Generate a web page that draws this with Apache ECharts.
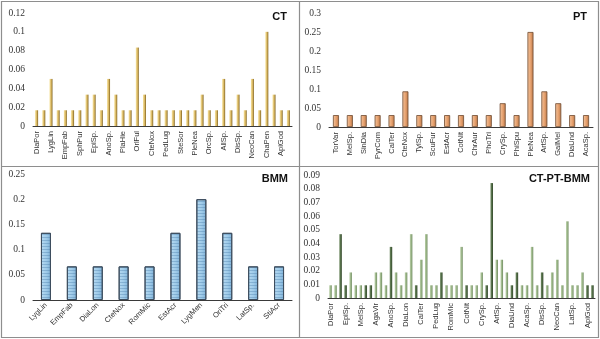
<!DOCTYPE html>
<html>
<head>
<meta charset="utf-8">
<script src="https://cdn.jsdelivr.net/npm/echarts@6/dist/echarts.min.js"></script>
<style>html,body{margin:0;padding:0;background:#fff}#c{width:600px;height:339px}</style>
</head>
<body>
<div id="c"></div>
<script>
// ---- CT ----
var ctCats = ['DiaPor','DiaLon','LygLin','LygMen','EmpFab','PleSp.','SphPur','CalTer','EpiSp.','MelSp.','AnoSp.','AgaVir','PlaHie','PhoTri','OrlFul','OriTri','CteNox','EstAcr','PedLug','RomMic','SteSor','ScuFur','PleNea','PhiSpu','OrcSp.','CrySp.','AllSp.','ArtSp.','DisSp.','GalMel','NeoCan','LatSp.','ChaPen','DiaUnd','ApiGod','AcaSp.'];
var ctVals = [0.0167,0.0167,0.05,0.0167,0.0167,0.0167,0.0167,0.0333,0.0333,0.0167,0.05,0.0333,0.0167,0.0167,0.0833,0.0333,0.0167,0.0167,0.0167,0.0167,0.0167,0.0167,0.0167,0.0333,0.0167,0.0167,0.05,0.0167,0.0333,0.0167,0.05,0.0167,0.1,0.0333,0.0167,0.0167];
var ctTicks = {min:0, max:0.12, interval:0.02};

// ---- PT ----
var ptCats = ['TorVar','MelSp.','SinDia','PyrCom','CalTer','CteNox','TylSp.','ScuFur','EstAcr','CotNit','ChrAur','PhoTri','CrySp.','PhiSpu','PleNea','ArtSp.','GalMel','DiaUnd','AcaSp.'];
var ptVals = [0.0313,0.0313,0.0313,0.0313,0.0313,0.0938,0.0313,0.0313,0.0313,0.0313,0.0313,0.0313,0.0625,0.0313,0.25,0.0938,0.0625,0.0313,0.0313];
var ptTicks = {min:0, max:0.3, interval:0.05};

// ---- BMM ----
var bmmCats = ['LygLin','EmpFab','DiaLon','CteNox','RomMic','EstAcr','LygMen','OriTri','LatSp.','StiAcr'];
var bmmVals = [0.1333,0.0667,0.0667,0.0667,0.0667,0.1333,0.2,0.1333,0.0667,0.0667];
var bmmTicks = {min:0, max:0.25, interval:0.05};

// ---- CT-PT-BMM ----
var allCats = ['DiaPor','LygLin','LygMen','EpiSp.','EmpFab','SphPur','MelSp.','TorVar','SinDia','AgaVir','PyrCom','PlaHie','AnoSp.','CalTe2','OrlFul','DiaLon','DiaLo2','TylSp.','CalTer','CalTe3','EstAcr','PedLug','PedLu2','SteSor','RomMic','RomMi2','PleNea','CotNit','CotNi2','OrcSp.','CrySp.','CryS2','PhiSpu','ArtSp.','ArtS2','GalMel','DiaUnd','DiaUn2','AcaSp2','AcaSp.','AcaS3','ChaPen','DisSp.','DisS4','NeoSp.','NeoCan','NeoCa2','LatSp3','LatSp.','LatS4','ApiGd3','ApiGod','ApiGo4'];
var allVals = [0.0093,0.0093,0.0467,0.0093,0.0187,0.0093,0.0093,0.0093,0.0093,0.0187,0.0187,0.0093,0.0374,0.0187,0.0093,0.0187,0.0467,0.0093,0.028,0.0467,0.0093,0.0093,0.0187,0.0093,0.0093,0.0093,0.0374,0.0093,0.0093,0.0093,0.0187,0.0093,0.0841,0.028,0.028,0.0187,0.0093,0.0187,0.0093,0.0093,0.0374,0.0093,0.0187,0.0093,0.0187,0.028,0.0093,0.0561,0.0093,0.0093,0.0187,0.0093,0.0093];
var allTicks = {min:0, max:0.09, interval:0.01};
// style: darker-looking bars in the combined panel
var allDark = [2,3,7,8,12,17,22,27,31,32,36,37,42,51,52];

var chart = echarts.init(document.getElementById('c'), null, {renderer:'canvas'});

var grids = [
  {left:33, top:13, width:259, height:113},
  {left:329, top:13, width:264, height:114},
  {left:33, top:174, width:259, height:126},
  {left:328, top:175, width:267, height:123}
];
var catsList = [ctCats, ptCats, bmmCats, allCats];
var ticksList = [ctTicks, ptTicks, bmmTicks, allTicks];
var labelFont = 'Liberation Sans';

var xAxes = catsList.map(function(c,i){
  return {
    type:'category', gridIndex:i, data:c,
    axisLine:{show:true, lineStyle:{color:'#3a3a3a', width:1}},
    axisTick:{show:false},
    axisLabel:{
      interval: i===0 ? 1 : (i===3 ? 2 : 0),
      rotate: i===2 ? 45 : 90,
      fontSize: 7.5, color:'#333', fontFamily: labelFont,
      margin: i===2 ? 4 : 5
    }
  };
});
var yAxes = ticksList.map(function(t,i){
  return {
    type:'value', gridIndex:i, min:t.min, max:t.max, interval:t.interval,
    axisLine:{show:false}, axisTick:{show:false}, splitLine:{show:false},
    axisLabel:{fontSize:9.5, color:'#333', fontFamily:'Liberation Serif', margin:8}
  };
});

function grad(c0,c1,c2){
  return new echarts.graphic.LinearGradient(0,0,1,0,[{offset:0,color:c0},{offset:0.55,color:c1},{offset:1,color:c2}]);
}

var series = [
  {type:'bar', xAxisIndex:0, yAxisIndex:0, data:ctVals, barWidth:3,
   itemStyle:{color:grad('#f6e3a0','#d8b660','#7d6120')}},
  {type:'bar', xAxisIndex:1, yAxisIndex:1, data:ptVals, barWidth:6,
   itemStyle:{color:grad('#f5c8a2','#e59f6c','#b7774a'), borderColor:'#6e4a30', borderWidth:0.8}},
  {type:'bar', xAxisIndex:2, yAxisIndex:2, data:bmmVals, barWidth:10,
   itemStyle:{color:grad('#b7daf1','#9fcbe9','#7fb0d6'), borderColor:'#3d4d5e', borderWidth:1,
     decal:{symbol:'rect', symbolSize:1, dashArrayX:[1,0], dashArrayY:[1,2], color:'rgba(70,120,165,0.35)', rotation:0}}},
  {type:'bar', xAxisIndex:3, yAxisIndex:3, barWidth:2.5,
   data: allVals.map(function(v,i){
     var dark = allDark.indexOf(i) >= 0;
     return {value:v, itemStyle:{color: dark ? grad('#6f8a62','#4f6a44','#34482c') : grad('#b9cfa8','#98b385','#6f8a60')}};
   })}
];

var titleStyle = {fontSize:11, fontWeight:'bold', color:'#111', fontFamily:'Liberation Sans'};
chart.setOption({
  animation:false,
  backgroundColor:'#fff',
  title:[
    {text:'CT', right:308, top:6, textStyle:titleStyle},
    {text:'PT', right:8, top:6, textStyle:titleStyle},
    {text:'BMM', right:307, top:168, textStyle:titleStyle},
    {text:'CT-PT-BMM', right:5, top:168, textStyle:titleStyle}
  ],
  grid:grids, xAxis:xAxes, yAxis:yAxes, series:series,
  graphic:[
    {type:'rect', shape:{x:1.5,y:1.5,width:597,height:336}, style:{fill:null, stroke:'#8e8e8e', lineWidth:1.2}, silent:true},
    {type:'line', shape:{x1:299.5,y1:1,x2:299.5,y2:338}, style:{stroke:'#8e8e8e', lineWidth:1.2}, silent:true},
    {type:'line', shape:{x1:1,y1:166.5,x2:599,y2:166.5}, style:{stroke:'#8e8e8e', lineWidth:1.2}, silent:true}
  ]
});
</script>
</body>
</html>
